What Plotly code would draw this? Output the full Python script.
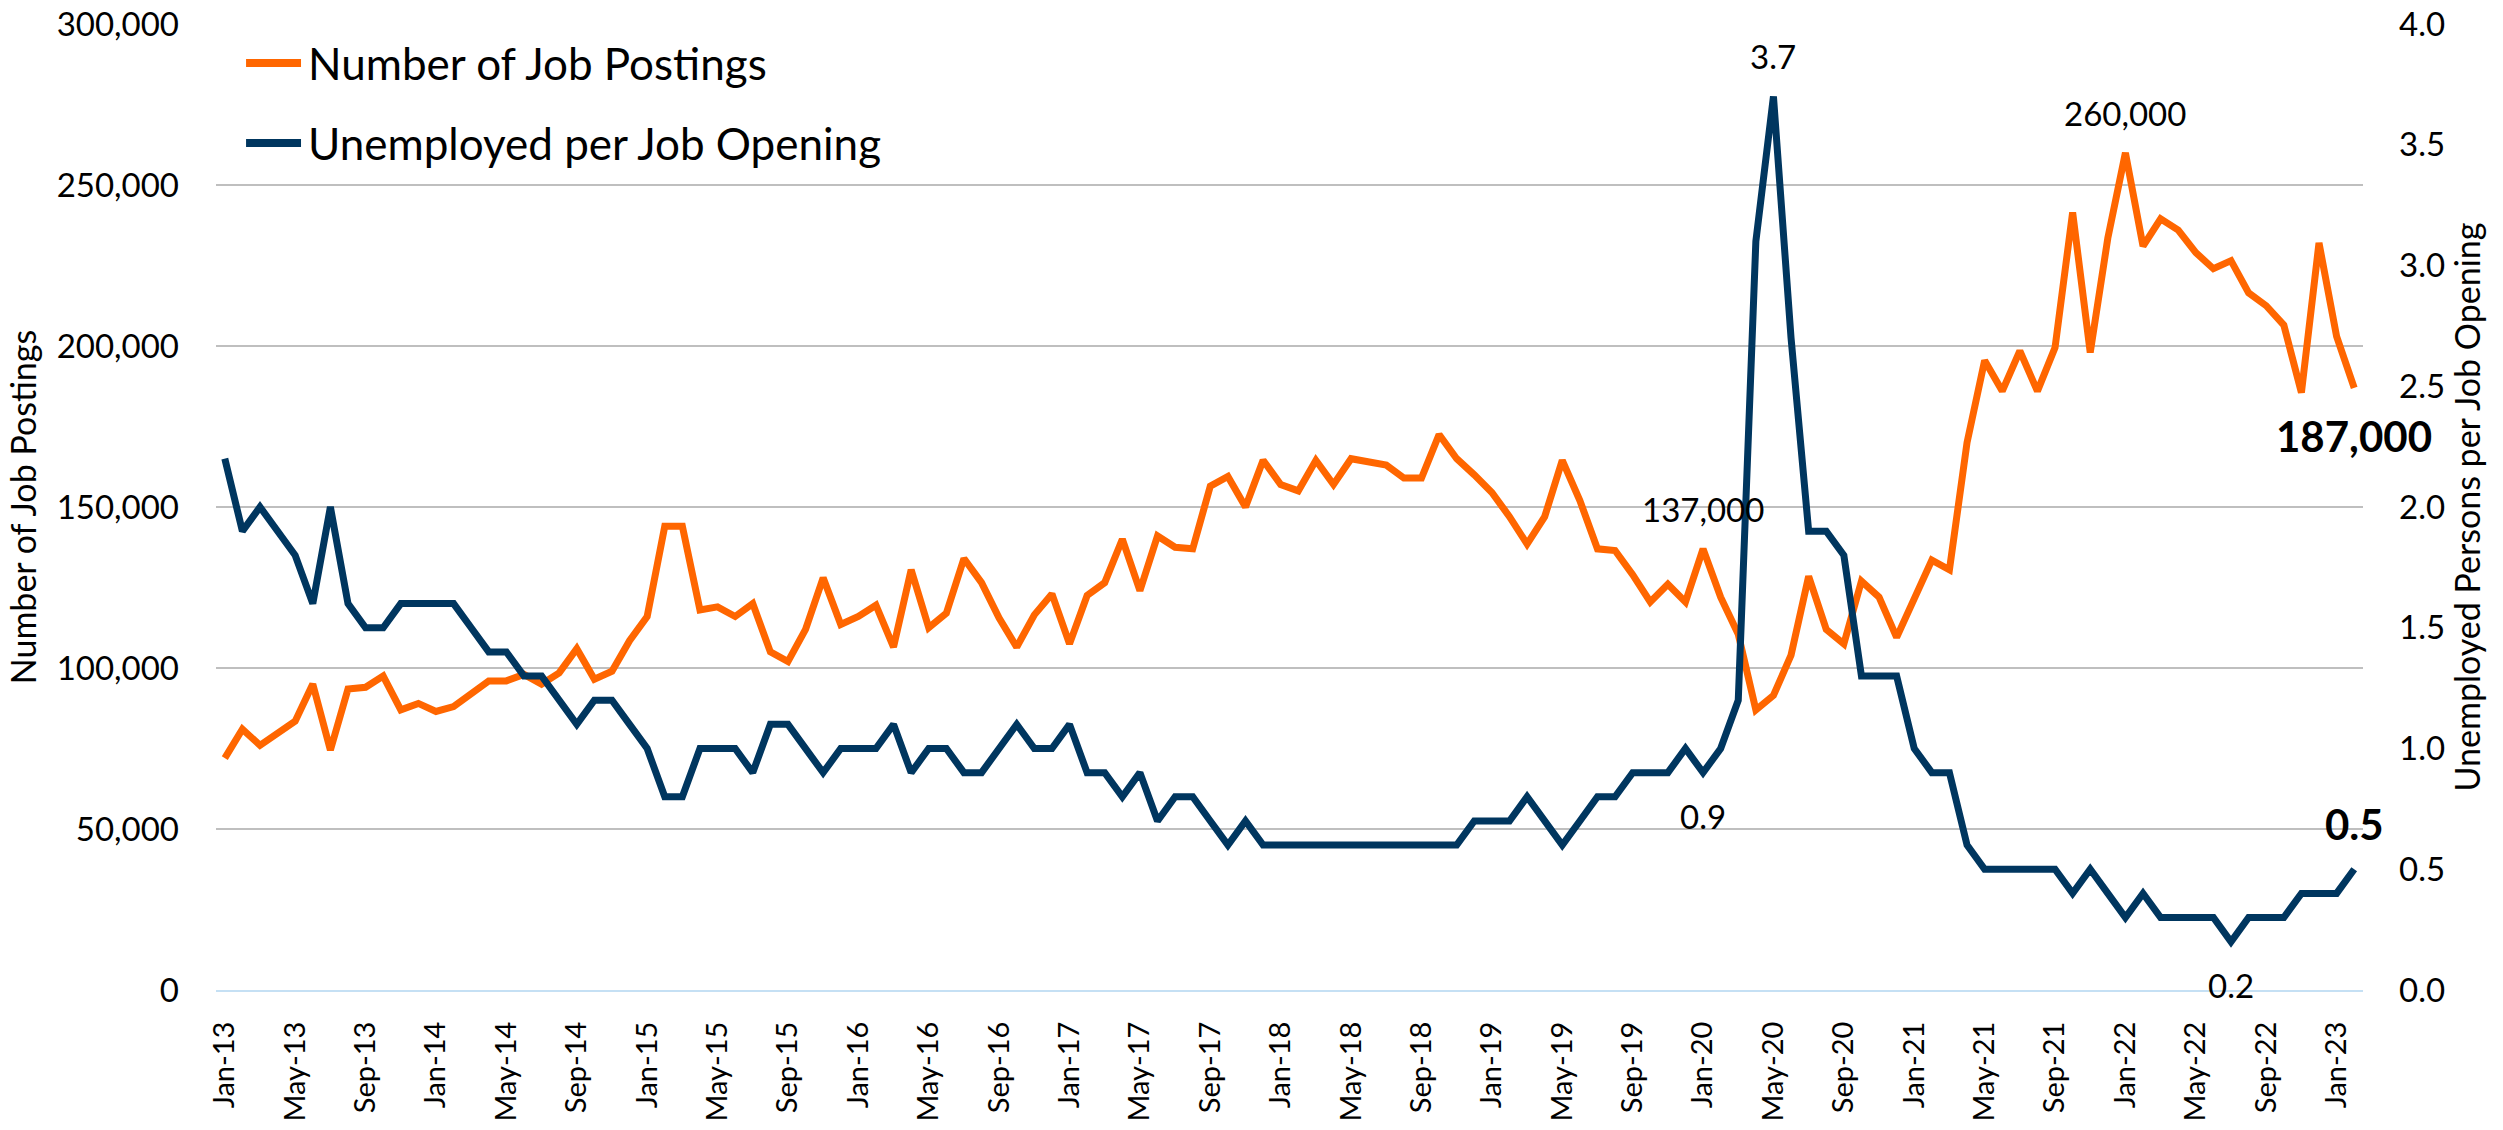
import pandas as pd
import plotly.graph_objects as go

# Mesi (categorie asse x): Jan-13 ... Feb-23
months = list(pd.date_range("2013-01-01", "2023-02-01", freq="MS").strftime("%b-%y"))

# Numero di annunci di lavoro (asse sinistro)
postings_2013 = [72000, 81000, 76000, 80000, 83500, 95000, 74500, 93500, 94000, 97500, 87000, 89000]
postings_2014 = [86500, 88000, 92000, 96000, 96000, 98000, 95000, 98500, 106000, 96500, 99000, 108500]
postings_2015 = [116000, 144000, 144000, 118000, 119000, 116000, 120000, 105000, 102000, 112000, 128000, 113500]
postings_2016 = [116000, 119500, 106500, 130500, 112500, 117000, 134000, 126500, 115500, 106500, 116500, 123000]
postings_2017 = [107500, 122500, 126500, 140000, 124000, 141000, 137500, 137000, 156500, 159500, 150000, 164500]
postings_2018 = [157000, 155000, 164500, 157000, 165000, 164000, 163000, 159000, 159000, 172500, 165000, 160000]
postings_2019 = [154500, 147000, 138500, 147000, 164500, 152000, 137000, 136500, 129000, 120500, 126000, 120500]
postings_2020 = [137000, 122000, 110500, 87000, 91500, 104000, 128500, 112000, 107500, 127000, 122000, 109500]
postings_2021 = [122000, 133500, 130500, 170000, 195500, 186000, 198500, 186000, 199500, 241500, 198000, 233500]
postings_2022 = [260000, 231000, 239500, 236000, 229000, 224000, 226500, 216500, 212500, 206500, 185500, 232000]
postings_2023 = [203000, 187000]

# Disoccupati per posto vacante (asse destro)
ratio_2013 = [2.2, 1.9, 2.0, 1.9, 1.8, 1.6, 2.0, 1.6, 1.5, 1.5, 1.6, 1.6]
ratio_2014 = [1.6, 1.6, 1.5, 1.4, 1.4, 1.3, 1.3, 1.2, 1.1, 1.2, 1.2, 1.1]
ratio_2015 = [1.0, 0.8, 0.8, 1.0, 1.0, 1.0, 0.9, 1.1, 1.1, 1.0, 0.9, 1.0]
ratio_2016 = [1.0, 1.0, 1.1, 0.9, 1.0, 1.0, 0.9, 0.9, 1.0, 1.1, 1.0, 1.0]
ratio_2017 = [1.1, 0.9, 0.9, 0.8, 0.9, 0.7, 0.8, 0.8, 0.7, 0.6, 0.7, 0.6]
ratio_2018 = [0.6, 0.6, 0.6, 0.6, 0.6, 0.6, 0.6, 0.6, 0.6, 0.6, 0.6, 0.7]
ratio_2019 = [0.7, 0.7, 0.8, 0.7, 0.6, 0.7, 0.8, 0.8, 0.9, 0.9, 0.9, 1.0]
ratio_2020 = [0.9, 1.0, 1.2, 3.1, 3.7, 2.7, 1.9, 1.9, 1.8, 1.3, 1.3, 1.3]
ratio_2021 = [1.0, 0.9, 0.9, 0.6, 0.5, 0.5, 0.5, 0.5, 0.5, 0.4, 0.5, 0.4]
ratio_2022 = [0.3, 0.4, 0.3, 0.3, 0.3, 0.3, 0.2, 0.3, 0.3, 0.3, 0.4, 0.4]
ratio_2023 = [0.4, 0.5]

postings = (postings_2013 + postings_2014 + postings_2015 + postings_2016 + postings_2017 + postings_2018
            + postings_2019 + postings_2020 + postings_2021 + postings_2022 + postings_2023)
ratio = (ratio_2013 + ratio_2014 + ratio_2015 + ratio_2016 + ratio_2017 + ratio_2018
         + ratio_2019 + ratio_2020 + ratio_2021 + ratio_2022 + ratio_2023)

tick_labels = months[::4]

# Etichette dei punti
postings_labels = ["Jan-20", "Jan-22"]
ratio_labels_above = ["May-20"]
ratio_labels_below = ["Jan-20", "Jul-22"]
last = months[-1]

ORANGE = "#FF6600"
NAVY = "#00365F"
FONT = "Lato"

fig = go.Figure()
fig.add_trace(go.Scatter(x=months, y=postings, mode="lines", name="Number of Job Postings",
                         line=dict(color=ORANGE, width=7), showlegend=False))
fig.add_trace(go.Scatter(x=months, y=ratio, mode="lines", name="Unemployed per Job Opening",
                         line=dict(color=NAVY, width=7), yaxis="y2", showlegend=False))

annotations = []
for m in postings_labels:
    v = postings[months.index(m)]
    annotations.append(dict(x=m, y=v, xref="x", yref="y", text=f"{v:,}", showarrow=False,
                            yshift=40, font=dict(size=33, color="black")))
for m in ratio_labels_above:
    v = ratio[months.index(m)]
    annotations.append(dict(x=m, y=v, xref="x", yref="y2", text=f"{v:.1f}", showarrow=False,
                            yshift=40, font=dict(size=33, color="black")))
for m in ratio_labels_below:
    v = ratio[months.index(m)]
    annotations.append(dict(x=m, y=v, xref="x", yref="y2", text=f"{v:.1f}", showarrow=False,
                            yshift=-43, font=dict(size=33, color="black")))
annotations.append(dict(x=last, y=postings[-1], xref="x", yref="y", text=f"<b>{postings[-1]:,}</b>",
                        showarrow=False, yshift=-48, font=dict(size=42, color="black")))
annotations.append(dict(x=last, y=ratio[-1], xref="x", yref="y2", text=f"<b>{ratio[-1]:.1f}</b>",
                        showarrow=False, yshift=45, font=dict(size=42, color="black")))

# Legenda disegnata a mano (linee lunghe come nell'originale)
legend_items = [("Number of Job Postings", ORANGE, 0.9596), ("Unemployed per Job Opening", NAVY, 0.8768)]
shapes = []
for label, color, yy in legend_items:
    shapes.append(dict(type="line", xref="paper", yref="paper", x0=0.0140, x1=0.0396, y0=yy, y1=yy,
                       line=dict(color=color, width=8)))
    annotations.append(dict(x=0.0419, y=yy, xref="paper", yref="paper", text=label, showarrow=False,
                            xanchor="left", yanchor="middle", font=dict(size=44, color="black")))

fig.update_layout(
    width=2503, height=1130,
    margin=dict(l=216, r=140, t=24, b=140),
    paper_bgcolor="white", plot_bgcolor="white",
    font=dict(family=FONT, color="black"),
    showlegend=False,
    annotations=annotations,
    shapes=shapes,
    xaxis=dict(type="category", range=[-0.5, len(months) - 0.5], tickmode="array",
               tickvals=tick_labels, ticktext=tick_labels, tickangle=-90,
               tickfont=dict(size=29), showgrid=False, showline=True, automargin=False,
               linecolor="#C5E0F4", linewidth=2, ticks="", ticklabelstandoff=18,
               ticklabeloverflow="allow"),
    yaxis=dict(range=[0, 300000], dtick=50000, tickformat=",", tickfont=dict(size=33),
               showgrid=True, gridcolor="#BFBFBF", gridwidth=2, zeroline=False, automargin=False,
               title=dict(text="Number of Job Postings", font=dict(size=34), standoff=9),
               ticklabelstandoff=36, ticklabeloverflow="allow"),
    yaxis2=dict(range=[0, 4], dtick=0.5, tickformat=".1f", overlaying="y", side="right",
                tickfont=dict(size=33), showgrid=False, zeroline=False, automargin=False,
                title=dict(text="Unemployed Persons per Job Opening", font=dict(size=34), standoff=12),
                ticklabelstandoff=35, ticklabeloverflow="allow"),
)

# la pagina HTML ha un margine di 8px sul body: lo azzero così il grafico parte da (0, 0)
fig.write_html("out.html", config={"displayModeBar": False},
               post_script="document.body.style.margin = '0';")
